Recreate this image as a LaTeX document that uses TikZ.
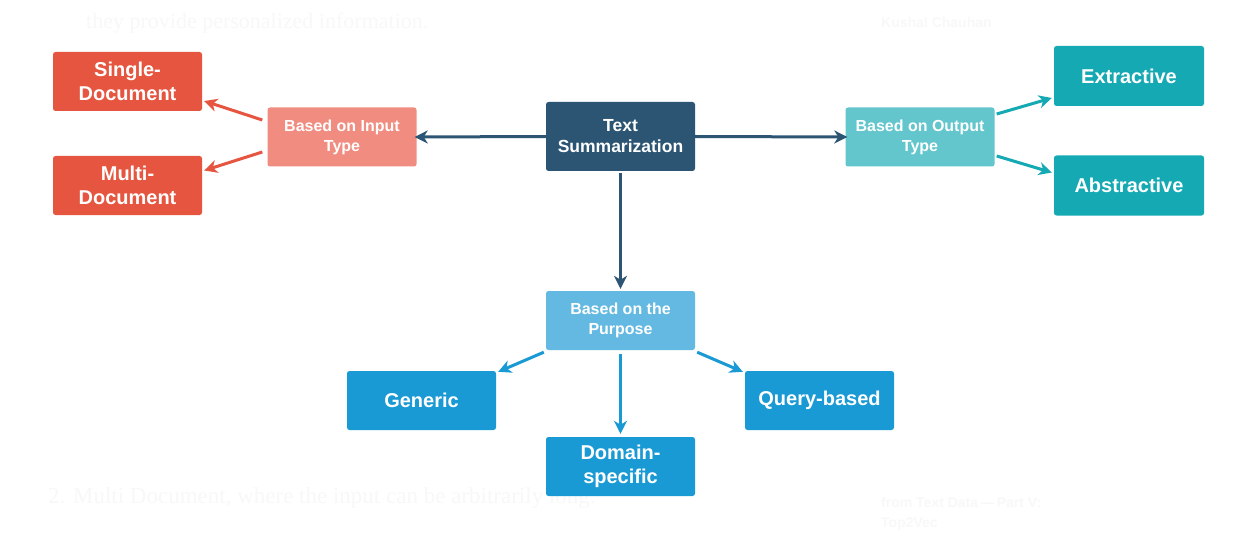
\documentclass[tikz,border=0pt]{standalone}
\usepackage{fontspec}
\setmainfont{Liberation Sans}
\newfontfamily\bgserif{Liberation Serif}
\usetikzlibrary{arrows.meta}
\definecolor{cred}{HTML}{E6553F}
\definecolor{csalmon}{HTML}{F18C80}
\definecolor{cnavy}{HTML}{2C5574}
\definecolor{cteal}{HTML}{15A9B4}
\definecolor{cltteal}{HTML}{62C6CC}
\definecolor{cblue}{HTML}{1A9AD4}
\definecolor{cltblue}{HTML}{63B9E1}
\definecolor{cfaint}{HTML}{F8F8F8}
\tikzset{
  x=1pt,y=-1pt,
  box/.style={rounded corners=2.5pt,text=white,align=center,inner sep=0pt,
    font=\bfseries,minimum width=149pt,minimum height=59pt},
  big/.style={box,font=\bfseries\fontsize{20}{24}\selectfont},
  small/.style={box,font=\bfseries\fontsize{16}{20}\selectfont},
  arr/.style={line width=3pt,-{Stealth[length=13pt,width=13pt,inset=4pt]}},
  faint/.style={text=cfaint,anchor=base west,inner sep=0pt}
}
\begin{document}
\begin{tikzpicture}
\fill[white] (0,0) rectangle (1260,548);
\useasboundingbox (0,0) rectangle (1260,548);
% faint background text
\node[faint,font=\bgserif\fontsize{22}{26}\selectfont] (bg1) at (86,29) {they provide personalized information.};
\node[faint,font=\bgserif\fontsize{23}{26}\selectfont] (bg2) at (48,503) {2. Multi Document, where the input can be arbitrarily long.};
\node[faint,font=\bfseries\fontsize{14}{17}\selectfont] (bg3) at (881,28) {Kushal Chauhan};
\node[faint,font=\bfseries\fontsize{14}{17}\selectfont] (bg4) at (881,507) {from Text Data\,—\,Part V:};
\node[faint,font=\bfseries\fontsize{14}{17}\selectfont] (bg5) at (881,527) {Top2Vec};
% nodes
\node[big,fill=cred] (single) at (127.5,81.5) {Single-\\Document};
\node[big,fill=cred] (multi) at (127.5,185.5) {Multi-\\Document};
\node[small,fill=csalmon] (input) at (342,137) {Based on Input\\Type};
\node[box,fill=cnavy,minimum height=69pt,font=\bfseries\fontsize{17.5}{21}\selectfont] (ts) at (620.5,136.5) {Text\\Summarization};
\node[small,fill=cltteal] (output) at (920,137) {Based on Output\\Type};
\node[big,fill=cteal,minimum width=150pt,minimum height=60pt] (extr) at (1129,76) {Extractive};
\node[big,fill=cteal,minimum width=150pt,minimum height=60pt] (abstr) at (1129,185.5) {Abstractive};
\node[small,fill=cltblue] (purp) at (620.5,320.5) {Based on the\\Purpose};
\node[big,fill=cblue] (gen) at (421.5,400.5) {Generic};
\node[big,fill=cblue] (dom) at (620.5,466.5) {Domain-\\specific};
\node[big,fill=cblue] (query) at (819.5,400.5) {Query-based};
% connectors
\draw[arr,cnavy] (ts.west) -- ([xshift=-2pt]input.east);
\draw[arr,cnavy] (ts.east) -- ([xshift=2pt]output.west);
\draw[arr,cnavy] ([yshift=-2pt]ts.south) -- ([yshift=2pt]purp.north);
\draw[arr,cred] ([xshift=-5pt,yshift=17pt]input.west) -- ([xshift=2pt,yshift=-19.5pt]single.east);
\draw[arr,cred] ([xshift=-5pt,yshift=-15pt]input.west) -- ([xshift=2pt,yshift=15pt]multi.east);
\draw[arr,cteal] ([xshift=2pt,yshift=23pt]output.east) -- ([xshift=-2pt,yshift=-22pt]extr.west);
\draw[arr,cteal] ([xshift=2pt,yshift=-19pt]output.east) -- ([xshift=-2pt,yshift=13pt]abstr.west);
\draw[arr,cblue] ([xshift=-2pt,yshift=-2pt]purp.south west) -- ([xshift=2pt,yshift=-1pt]gen.north east);
\draw[arr,cblue] ([yshift=-4pt]purp.south) -- ([yshift=3pt]dom.north);
\draw[arr,cblue] ([xshift=2pt,yshift=-2pt]purp.south east) -- ([xshift=-2pt,yshift=-1pt]query.north west);
\end{tikzpicture}
\end{document}
